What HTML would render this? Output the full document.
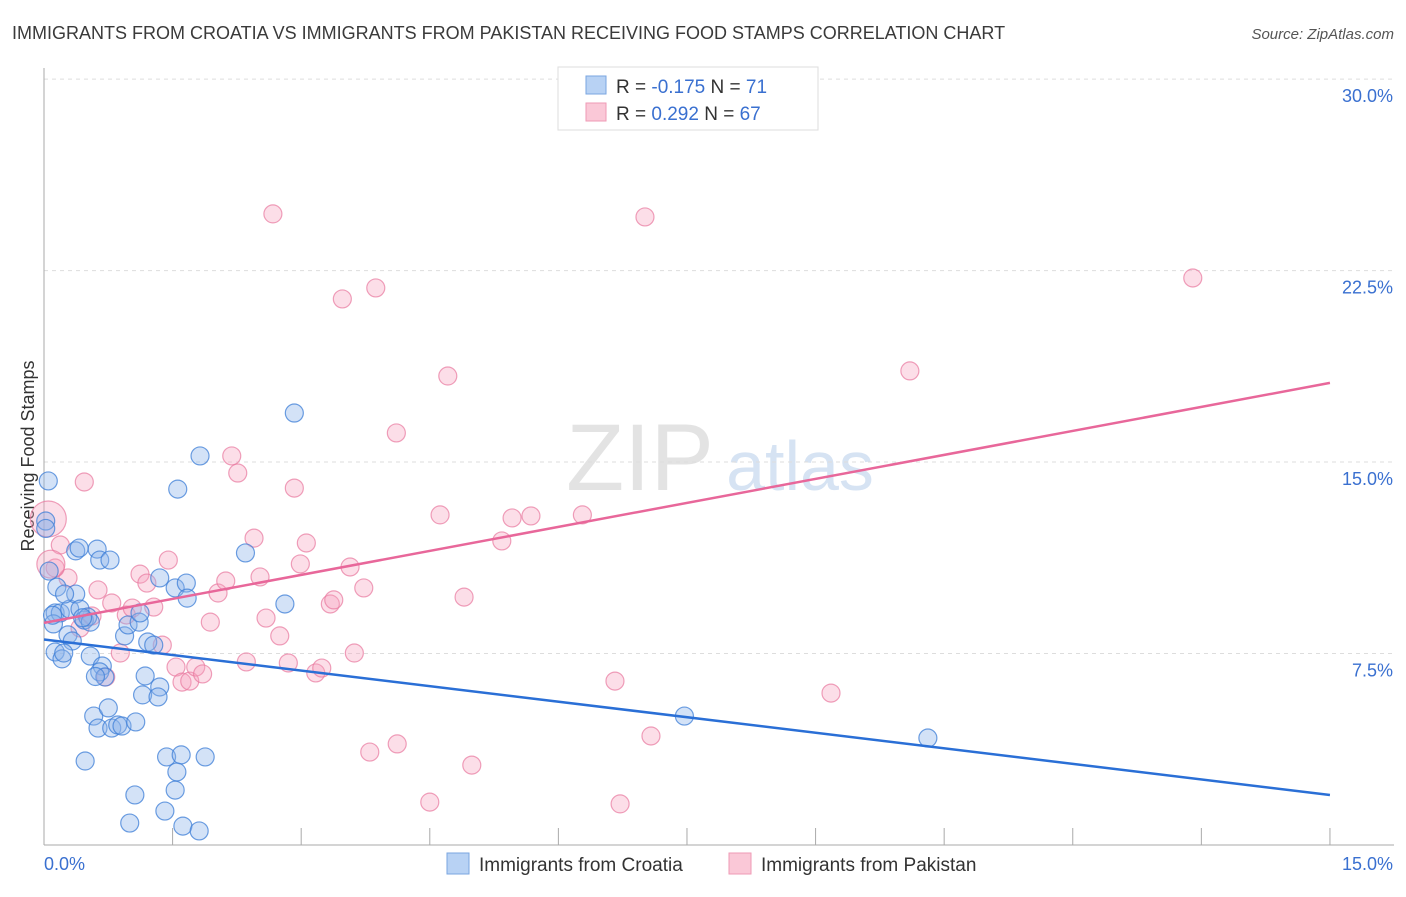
<!DOCTYPE html>
<html><head><meta charset="utf-8"><style>
body{margin:0;background:#fff;font-family:"Liberation Sans",sans-serif;}
svg text{font-family:"Liberation Sans",sans-serif;}
</style></head><body>
<svg id="chart" width="1406" height="892" xmlns="http://www.w3.org/2000/svg">
<text x="12" y="39" font-size="18" fill="#3a3a3a">IMMIGRANTS FROM CROATIA VS IMMIGRANTS FROM PAKISTAN RECEIVING FOOD STAMPS CORRELATION CHART</text>
<text x="1394" y="39" font-size="15" fill="#555" text-anchor="end" font-style="italic">Source: ZipAtlas.com</text>
<text transform="translate(34,456) rotate(-90)" font-size="18" fill="#333" text-anchor="middle">Receiving Food Stamps</text>
<g>
<text x="640" y="490" font-size="95" fill="#e3e3e3" text-anchor="middle" font-family="Liberation Serif,serif">ZIP</text>
<text x="800" y="490" font-size="70" fill="#d6e3f3" text-anchor="middle">atlas</text>
</g>
<g id="grid"></g><g id="axes"></g><g id="pts"></g><g id="lines"></g>
<g>
<rect x="558" y="67" width="260" height="63" fill="#fff" stroke="#ddd"/>
<rect x="586" y="76" width="20" height="18" fill="#b8d2f4" stroke="#7aa6e0"/>
<rect x="586" y="103" width="20" height="18" fill="#fac8d7" stroke="#ef9ab5"/>
<text x="616" y="93" font-size="19" fill="#333">R = <tspan fill="#3a70d0">-0.175</tspan>   N =  <tspan fill="#3a70d0">71</tspan></text>
<text x="616" y="120" font-size="19" fill="#333">R =  <tspan fill="#3a70d0">0.292</tspan>   N = <tspan fill="#3a70d0">67</tspan></text>
</g>
<g>
<rect x="447" y="853" width="22" height="21" fill="#b8d2f4" stroke="#7aa6e0"/>
<text x="479" y="871" font-size="19" fill="#333">Immigrants from Croatia</text>
<rect x="729" y="853" width="22" height="21" fill="#fac8d7" stroke="#ef9ab5"/>
<text x="761" y="871" font-size="19" fill="#333">Immigrants from Pakistan</text>
</g>
</svg>
<script>
const blueX=[0.05,0.02,0.06,0.15,0.13,0.19,0.30,0.37,0.24,0.42,0.47,0.51,0.54,0.11,0.28,0.33,0.13,0.21,0.23,0.54,0.37,0.41,0.62,0.65,0.77,0.68,0.65,0.71,0.94,0.98,1.11,1.12,1.21,1.28,1.35,1.53,1.66,1.67,1.18,1.35,1.15,1.33,0.58,0.75,0.63,0.79,0.86,0.91,1.07,0.48,1.56,1.82,2.35,2.81,2.92,1.43,1.60,1.88,1.55,1.06,1.53,1.41,1.00,1.62,1.81,7.47,10.31,0.02,0.10,0.60,0.45];
const blueY=[14.26,12.69,10.73,10.1,9.09,9.09,9.24,9.83,9.83,9.24,8.81,8.93,8.73,8.66,8.23,7.99,7.56,7.29,7.52,7.40,11.52,11.63,11.59,11.16,11.16,7.01,6.78,6.58,8.19,8.62,8.73,9.09,7.95,7.83,10.46,10.07,10.26,9.67,6.62,6.19,5.88,5.80,5.05,5.37,4.58,4.58,4.70,4.66,4.82,3.29,13.94,15.24,11.44,9.44,16.92,3.45,3.53,3.45,2.86,1.96,2.15,1.33,0.86,0.74,0.55,5.05,4.19,12.4,9.0,6.6,8.9];
const pinkX=[0.05,0.19,0.28,0.13,0.47,0.63,0.79,0.89,0.42,0.56,0.72,0.96,1.03,1.12,1.20,1.28,1.38,1.45,1.54,1.61,1.70,1.77,1.85,1.94,2.03,2.12,2.19,2.26,2.36,2.45,2.52,2.59,2.75,2.85,2.92,2.99,3.06,3.17,3.24,3.34,3.38,3.48,3.57,3.62,3.73,3.80,3.87,4.11,4.12,2.67,4.50,4.62,4.71,4.90,4.99,5.34,5.46,5.68,6.28,6.66,6.72,7.01,7.08,9.18,10.10,13.40,0.08];
const pinkY=[12.77,11.75,10.46,10.85,14.22,9.99,9.48,7.52,8.50,8.97,6.58,9.01,9.28,10.61,10.26,9.32,7.83,11.16,6.97,6.38,6.42,6.97,6.70,8.73,9.87,10.34,15.24,14.57,7.17,12.02,10.50,8.89,8.19,7.13,13.98,11.01,11.83,6.74,6.93,9.44,9.60,21.39,10.89,7.52,10.07,3.64,21.82,16.14,3.96,24.72,1.68,12.93,18.37,9.71,3.13,11.91,12.81,12.89,12.93,6.42,1.61,24.60,4.27,5.95,18.57,22.21,11.0];
const pinkR=[18,9,9,9,9,9,9,9,9,9,9,9,9,9,9,9,9,9,9,9,9,9,9,9,9,9,9,9,9,9,9,9,9,9,9,9,9,9,9,9,9,9,9,9,9,9,9,9,9,9,9,9,9,9,9,9,9,9,9,9,9,9,9,9,9,9,14];
const yTicks=[7.5,15,22.5,30];
const yTickLabels=["7.5%","15.0%","22.5%","30.0%"];
const xTicks=[0,1.5,3,4.5,6,7.5,9,10.5,12,13.5,15];
const blueTrend=[[0,8.05],[15,1.96]];
const pinkTrend=[[0,8.7],[15,18.1]];
const X=v=>44+v*85.73, Y=v=>845-v*25.53;
const NS="http://www.w3.org/2000/svg";
function mk(tag,attrs,parent){const e=document.createElementNS(NS,tag);for(const k in attrs)e.setAttribute(k,attrs[k]);document.getElementById(parent).appendChild(e);return e;}
yTicks.forEach((t,i)=>{
 const g=mk('line',{x1:44,x2:1394,y1:Y(t),y2:Y(t),stroke:'#ddd','stroke-dasharray':'4,4'},'grid');
 
 
 const l=mk('text',{x:1393,y:Y(t)+23,'font-size':18,fill:'#3a70d0','text-anchor':'end'},'axes');
 l.textContent=yTickLabels[i];
 
 
});
const ax=mk('line',{x1:44,x2:44,y1:68,y2:845,stroke:'#aaa'},'axes');


const bx=mk('line',{x1:44,x2:1394,y1:845,y2:845,stroke:'#aaa'},'axes');


xTicks.forEach(t=>{
 const k=mk('line',{x1:X(t),x2:X(t),y1:828,y2:845,stroke:'#aaa'},'axes');
 
 
});
const x0=mk('text',{x:44,y:870,'font-size':18,fill:'#3a70d0'},'axes');x0.textContent='0.0%';


const x1=mk('text',{x:1393,y:870,'font-size':18,fill:'#3a70d0','text-anchor':'end'},'axes');x1.textContent='15.0%';


pinkX.forEach((v,i)=>{
 const c=mk('circle',{cx:X(v),cy:Y(pinkY[i]),r:pinkR[i],fill:'rgba(246,160,188,0.35)',stroke:'rgba(232,120,158,0.7)','stroke-width':1.2},'pts');
 
 
});
blueX.forEach((v,i)=>{
 const c=mk('circle',{cx:X(v),cy:Y(blueY[i]),r:9,fill:'rgba(140,180,235,0.38)',stroke:'rgba(60,125,215,0.75)','stroke-width':1.2},'pts');
 
 
});
const bl=mk('line',{x1:X(blueTrend[0][0]),y1:Y(blueTrend[0][1]),x2:X(blueTrend[1][0]),y2:Y(blueTrend[1][1]),stroke:'#2a6fd6','stroke-width':2.5},'lines');


const pl=mk('line',{x1:X(pinkTrend[0][0]),y1:Y(pinkTrend[0][1]),x2:X(pinkTrend[1][0]),y2:Y(pinkTrend[1][1]),stroke:'#e8679a','stroke-width':2.5},'lines');


</script>
</body></html>
